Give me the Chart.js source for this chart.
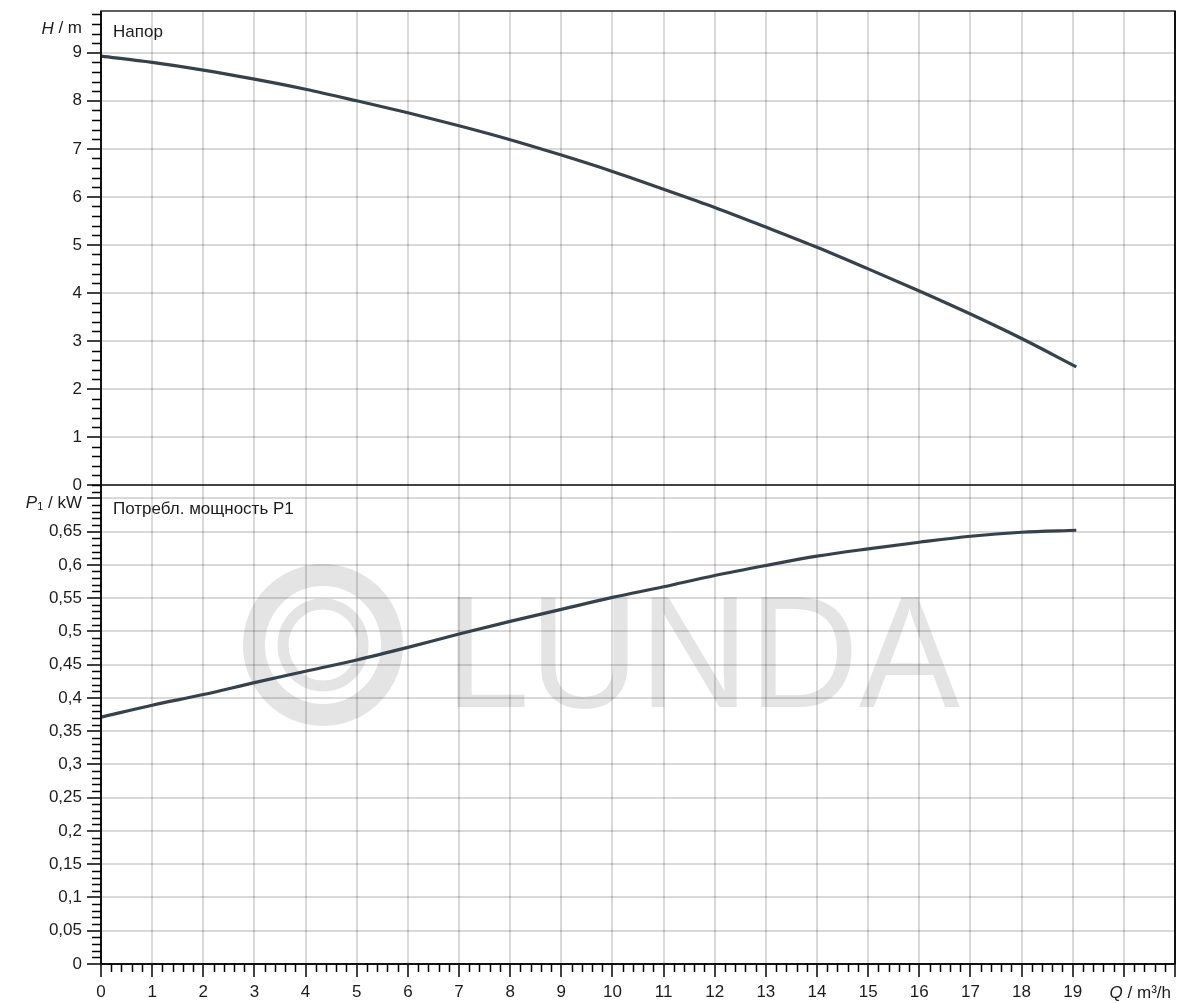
<!DOCTYPE html>
<html>
<head>
<meta charset="utf-8">
<script src="https://cdn.jsdelivr.net/npm/chart.js@4/dist/chart.umd.min.js"></script>
<style>
  html,body{margin:0;padding:0;background:#fff;}
  #wrap{width:1179px;height:1003px;position:relative;}
</style>
</head>
<body>
<div id="wrap"><canvas id="c" width="1179" height="1003"></canvas></div>
<script>
// ---- data ----
const flow  = [0, 1, 2, 3, 4, 5, 6, 7, 8, 9, 10, 11, 12, 13, 14, 15, 16, 17, 18, 19.07];
const head  = [8.93, 8.80, 8.64, 8.45, 8.24, 8.00, 7.75, 7.48, 7.19, 6.87, 6.53, 6.16, 5.78, 5.37, 4.95, 4.50, 4.04, 3.56, 3.05, 2.46];
const power = [0.371, 0.389, 0.405, 0.423, 0.440, 0.457, 0.476, 0.496, 0.515, 0.533, 0.551, 0.567, 0.584, 0.599, 0.613, 0.624, 0.634, 0.643, 0.649, 0.652];

const xTicks = [0,1,2,3,4,5,6,7,8,9,10,11,12,13,14,15,16,17,18,19,20,21];
const xTickLabels = ['0','1','2','3','4','5','6','7','8','9','10','11','12','13','14','15','16','17','18','19','',''];
const hTicks = [0,1,2,3,4,5,6,7,8,9];
const hTickLabels = ['0','1','2','3','4','5','6','7','8','9'];
const pTicks = [0,0.05,0.1,0.15,0.2,0.25,0.3,0.35,0.4,0.45,0.5,0.55,0.6,0.65,0.7];
const pTickLabels = ['0','0,05','0,1','0,15','0,2','0,25','0,3','0,35','0,4','0,45','0,5','0,55','0,6','0,65',''];

const xRange = [0, 21];
const hRange = [0, 9.87];
const pRange = [0, 0.72];

const headTitle = 'Напор';
const powerTitle = 'Потребл. мощность P1';

// ---- styles ----
const FONT = '"Liberation Sans", Arial, sans-serif';
const TXT = '#1c1c1c';
const LINE = '#36414c';
const GRID = 'rgba(0,0,0,0.15)';

function setTicks(values){
  return function(scale){ scale.ticks = values.map(v => ({value: v})); };
}
function noPad(s){ s.paddingTop = 0; s.paddingBottom = 0; s.paddingLeft = 0; s.paddingRight = 0; }

function drawParts(ctx, parts, xRight, yMid){
  let total = 0;
  parts.forEach(p => { ctx.font = p.font; p.w = ctx.measureText(p.t).width; total += p.w; });
  let x = xRight - total;
  parts.forEach(p => {
    ctx.font = p.font;
    ctx.fillText(p.t, x, yMid + (p.dy || 0));
    x += p.w;
  });
}

const deco = {
  id: 'deco',
  beforeDraw(chart){
    const ctx = chart.ctx, a = chart.chartArea, yP = chart.scales.yP;
    ctx.save();
    ctx.fillStyle = '#fff';
    ctx.fillRect(0, 0, chart.width, chart.height);
    // watermark
    ctx.strokeStyle = '#e4e4e4';
    const cx = a.left + 222, cy = yP.top + 160;
    ctx.lineWidth = 22;
    ctx.beginPath(); ctx.ellipse(cx, cy, 69, 70, 0, 0, Math.PI*2); ctx.stroke();
    ctx.lineWidth = 11;
    ctx.beginPath(); ctx.ellipse(cx, cy, 40, 41, 0, 0, Math.PI*2); ctx.stroke();
    ctx.fillStyle = '#e4e4e4';
    ctx.font = '160px ' + FONT;
    ctx.textBaseline = 'alphabetic';
    const word = 'LUNDA';
    const w = ctx.measureText(word).width;
    const target = 515;
    ctx.translate(a.left + 344, yP.top + 222);
    ctx.scale(target / w, 1);
    ctx.fillText(word, 0, 0);
    ctx.restore();
  },
  afterDraw(chart){
    const ctx = chart.ctx, a = chart.chartArea;
    const sx = chart.scales.x, sH = chart.scales.yH, sP = chart.scales.yP;
    ctx.save();
    // frame
    ctx.strokeStyle = '#2a2a2a';
    ctx.lineWidth = 1.5;
    ctx.strokeRect(a.left, a.top, a.right - a.left, a.bottom - a.top);
    ctx.strokeStyle = '#111';
    ctx.beginPath(); ctx.moveTo(a.left, sH.bottom); ctx.lineTo(a.right, sH.bottom); ctx.stroke();
    ctx.lineWidth = 2;
    ctx.beginPath(); ctx.moveTo(a.right, a.top); ctx.lineTo(a.right, a.bottom); ctx.stroke();
    ctx.beginPath(); ctx.moveTo(a.left, a.top); ctx.lineTo(a.left, a.bottom); ctx.stroke();
    ctx.beginPath(); ctx.moveTo(a.left, a.bottom); ctx.lineTo(a.right, a.bottom); ctx.stroke();
    // minor ticks
    ctx.strokeStyle = '#000';
    ctx.lineWidth = 1.5;
    ctx.beginPath();
    for (let i = 0; i <= 105; i++) {
      if (i % 5 === 0) continue;
      const px = Math.round(sx.getPixelForValue(i / 5)) + 0.5;
      ctx.moveTo(px, a.bottom); ctx.lineTo(px, a.bottom + 8);
    }
    for (let i = 0; i <= 49; i++) {
      if (i % 5 === 0) continue;
      const py = Math.round(sH.getPixelForValue(i / 5)) + 0.5;
      ctx.moveTo(a.left - 9, py); ctx.lineTo(a.left, py);
    }
    for (let i = 0; i <= 72; i++) {
      if (i % 5 === 0) continue;
      const py = Math.round(sP.getPixelForValue(i / 100)) + 0.5;
      ctx.moveTo(a.left - 9, py); ctx.lineTo(a.left, py);
    }
    ctx.stroke();
    // axis titles
    ctx.fillStyle = TXT;
    ctx.textBaseline = 'middle';
    ctx.textAlign = 'left';
    const reg = '17px ' + FONT, ital = 'italic 17px ' + FONT;
    drawParts(ctx, [{t:'H', font: ital}, {t:' / m', font: reg}], a.left - 19, sH.getPixelForValue(9.5));
    drawParts(ctx, [{t:'P', font: ital}, {t:'1', font: '11px ' + FONT, dy: 4}, {t:' / kW', font: reg}], a.left - 19, sP.getPixelForValue(0.7) + 5);
    drawParts(ctx, [{t:'Q', font: ital}, {t:' / m³/h', font: reg}], a.right - 4, a.bottom + 29);
    // panel titles
    ctx.font = reg;
    ctx.fillText(headTitle, a.left + 12, a.top + 21);
    ctx.fillText(powerTitle, a.left + 12, sP.top + 24);
    ctx.restore();
  }
};

const tickFont = {family: FONT, size: 17};

new Chart(document.getElementById('c'), {
  type: 'line',
  data: {
    datasets: [
      {
        label: headTitle,
        data: flow.map((q, i) => ({x: q, y: head[i]})),
        yAxisID: 'yH',
        borderColor: LINE, borderWidth: 3.2, pointRadius: 0,
        cubicInterpolationMode: 'monotone', fill: false
      },
      {
        label: powerTitle,
        data: flow.map((q, i) => ({x: q, y: power[i]})),
        yAxisID: 'yP',
        borderColor: LINE, borderWidth: 3.2, pointRadius: 0,
        cubicInterpolationMode: 'monotone', fill: false
      }
    ]
  },
  options: {
    responsive: false,
    animation: false,
    devicePixelRatio: 1,
    layout: {padding: {top: 11, right: 4, left: 0, bottom: 0}},
    plugins: {legend: {display: false}, tooltip: {enabled: false}},
    scales: {
      x: {
        type: 'linear', min: xRange[0], max: xRange[1],
        afterBuildTicks: setTicks(xTicks),
        afterFit(s){ s.height = 39; noPad(s); },
        grid: {color: GRID, lineWidth: 2, tickColor: '#000', tickLength: 13, tickWidth: 1.5},
        border: {display: false},
        ticks: {
          autoSkip: false, maxRotation: 0, padding: 5, color: TXT, font: tickFont,
          callback: (v) => xTickLabels[xTicks.indexOf(v)] ?? ''
        }
      },
      yP: {
        type: 'linear', position: 'left', stack: 'panels', stackWeight: 479,
        min: pRange[0], max: pRange[1],
        afterBuildTicks: setTicks(pTicks),
        afterFit(s){ s.width = 101; noPad(s); },
        grid: {color: GRID, lineWidth: 2, tickColor: '#000', tickLength: 14, tickWidth: 1.5},
        border: {display: false},
        ticks: {
          autoSkip: false, padding: 5, color: TXT, font: tickFont,
          callback: (v, i) => pTickLabels[i] ?? ''
        }
      },
      yH: {
        type: 'linear', position: 'left', stack: 'panels', stackWeight: 474,
        min: hRange[0], max: hRange[1],
        afterBuildTicks: setTicks(hTicks),
        afterFit(s){ s.width = 101; noPad(s); },
        grid: {color: GRID, lineWidth: 2, tickColor: '#000', tickLength: 14, tickWidth: 1.5},
        border: {display: false},
        ticks: {
          autoSkip: false, padding: 5, color: TXT, font: tickFont,
          callback: (v, i) => hTickLabels[i] ?? ''
        }
      }
    }
  },
  plugins: [deco]
});
</script>
</body>
</html>
